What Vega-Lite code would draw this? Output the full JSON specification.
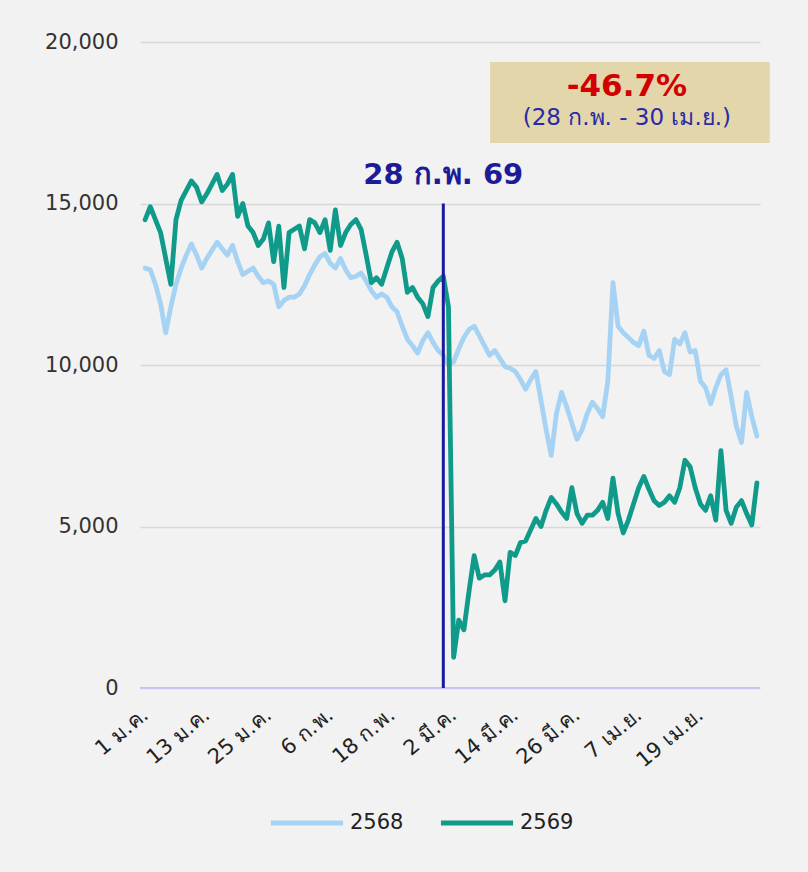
{
  "$schema": "https://vega.github.io/schema/vega-lite/v6.json",
  "width": 620,
  "height": 646,
  "autosize": {"type": "none"},
  "padding": {"left": 140, "top": 42, "right": 48, "bottom": 184},
  "background": "#f2f2f2",
  "config": {"view": {"stroke": null}, "font": "DejaVu Sans"},
  "data": {"values": [
    {"day":0,"y2568":13000,"y2569":14500},{"day":1,"y2568":12950,"y2569":14900},{"day":2,"y2568":12500,"y2569":14500},{"day":3,"y2568":11900,"y2569":14100},{"day":4,"y2568":11000,"y2569":13300},
    {"day":5,"y2568":11800,"y2569":12500},{"day":6,"y2568":12500,"y2569":14500},{"day":7,"y2568":13000,"y2569":15100},{"day":8,"y2568":13400,"y2569":15400},{"day":9,"y2568":13750,"y2569":15700},
    {"day":10,"y2568":13400,"y2569":15500},{"day":11,"y2568":13000,"y2569":15050},{"day":12,"y2568":13300,"y2569":15300},{"day":13,"y2568":13550,"y2569":15600},{"day":14,"y2568":13800,"y2569":15900},
    {"day":15,"y2568":13600,"y2569":15400},{"day":16,"y2568":13400,"y2569":15600},{"day":17,"y2568":13700,"y2569":15900},{"day":18,"y2568":13200,"y2569":14600},{"day":19,"y2568":12800,"y2569":15000},
    {"day":20,"y2568":12900,"y2569":14300},{"day":21,"y2568":13000,"y2569":14100},{"day":22,"y2568":12750,"y2569":13700},{"day":23,"y2568":12550,"y2569":13900},{"day":24,"y2568":12600,"y2569":14400},
    {"day":25,"y2568":12500,"y2569":13200},{"day":26,"y2568":11800,"y2569":14300},{"day":27,"y2568":12000,"y2569":12400},{"day":28,"y2568":12100,"y2569":14100},{"day":29,"y2568":12100,"y2569":14200},
    {"day":30,"y2568":12200,"y2569":14300},{"day":31,"y2568":12450,"y2569":13600},{"day":32,"y2568":12800,"y2569":14500},{"day":33,"y2568":13100,"y2569":14400},{"day":34,"y2568":13350,"y2569":14100},
    {"day":35,"y2568":13450,"y2569":14500},{"day":36,"y2568":13150,"y2569":13550},{"day":37,"y2568":13000,"y2569":14800},{"day":38,"y2568":13300,"y2569":13700},{"day":39,"y2568":12950,"y2569":14100},
    {"day":40,"y2568":12700,"y2569":14350},{"day":41,"y2568":12750,"y2569":14500},{"day":42,"y2568":12850,"y2569":14200},{"day":43,"y2568":12600,"y2569":13400},{"day":44,"y2568":12300,"y2569":12550},
    {"day":45,"y2568":12100,"y2569":12700},{"day":46,"y2568":12200,"y2569":12500},{"day":47,"y2568":12100,"y2569":13000},{"day":48,"y2568":11800,"y2569":13500},{"day":49,"y2568":11650,"y2569":13800},
    {"day":50,"y2568":11200,"y2569":13300},{"day":51,"y2568":10800,"y2569":12250},{"day":52,"y2568":10600,"y2569":12400},{"day":53,"y2568":10370,"y2569":12100},{"day":54,"y2568":10750,"y2569":11900},
    {"day":55,"y2568":11000,"y2569":11500},{"day":56,"y2568":10700,"y2569":12400},{"day":57,"y2568":10450,"y2569":12600},{"day":58,"y2568":10300,"y2569":12750},{"day":59,"y2568":10000,"y2569":11800},
    {"day":60,"y2568":10100,"y2569":950},{"day":61,"y2568":10500,"y2569":2100},{"day":62,"y2568":10850,"y2569":1800},{"day":63,"y2568":11100,"y2569":3000},{"day":64,"y2568":11200,"y2569":4100},
    {"day":65,"y2568":10900,"y2569":3400},{"day":66,"y2568":10600,"y2569":3500},{"day":67,"y2568":10300,"y2569":3500},{"day":68,"y2568":10450,"y2569":3650},{"day":69,"y2568":10200,"y2569":3900},
    {"day":70,"y2568":9950,"y2569":2700},{"day":71,"y2568":9900,"y2569":4200},{"day":72,"y2568":9800,"y2569":4100},{"day":73,"y2568":9550,"y2569":4500},{"day":74,"y2568":9250,"y2569":4550},
    {"day":75,"y2568":9550,"y2569":4900},{"day":76,"y2568":9800,"y2569":5250},{"day":77,"y2568":8900,"y2569":5000},{"day":78,"y2568":8000,"y2569":5500},{"day":79,"y2568":7200,"y2569":5900},
    {"day":80,"y2568":8500,"y2569":5700},{"day":81,"y2568":9150,"y2569":5450},{"day":82,"y2568":8700,"y2569":5250},{"day":83,"y2568":8200,"y2569":6200},{"day":84,"y2568":7700,"y2569":5400},
    {"day":85,"y2568":8000,"y2569":5100},{"day":86,"y2568":8500,"y2569":5350},{"day":87,"y2568":8850,"y2569":5350},{"day":88,"y2568":8650,"y2569":5500},{"day":89,"y2568":8400,"y2569":5750},
    {"day":90,"y2568":9500,"y2569":5250},{"day":91,"y2568":12550,"y2569":6500},{"day":92,"y2568":11200,"y2569":5400},{"day":93,"y2568":11000,"y2569":4800},{"day":94,"y2568":10850,"y2569":5200},
    {"day":95,"y2568":10700,"y2569":5700},{"day":96,"y2568":10600,"y2569":6200},{"day":97,"y2568":11050,"y2569":6550},{"day":98,"y2568":10300,"y2569":6150},{"day":99,"y2568":10200,"y2569":5800},
    {"day":100,"y2568":10450,"y2569":5650},{"day":101,"y2568":9800,"y2569":5750},{"day":102,"y2568":9700,"y2569":5950},{"day":103,"y2568":10800,"y2569":5750},{"day":104,"y2568":10650,"y2569":6200},
    {"day":105,"y2568":11000,"y2569":7050},{"day":106,"y2568":10400,"y2569":6850},{"day":107,"y2568":10450,"y2569":6200},{"day":108,"y2568":9500,"y2569":5700},{"day":109,"y2568":9300,"y2569":5500},
    {"day":110,"y2568":8800,"y2569":5950},{"day":111,"y2568":9300,"y2569":5200},{"day":112,"y2568":9700,"y2569":7350},{"day":113,"y2568":9850,"y2569":5500},{"day":114,"y2568":9000,"y2569":5100},
    {"day":115,"y2568":8100,"y2569":5600},{"day":116,"y2568":7600,"y2569":5800},{"day":117,"y2568":9150,"y2569":5400},{"day":118,"y2568":8400,"y2569":5050},{"day":119,"y2568":7800,"y2569":6350}
  ]},
  "layer": [
    {
      "transform": [{"fold": ["y2568", "y2569"], "as": ["series", "value"]}, {"calculate": "replace(datum.series, 'y', '')", "as": "year"}],
      "mark": {"type": "line", "strokeWidth": 4.8, "strokeJoin": "round", "strokeCap": "round"},
      "encoding": {
        "x": {"field": "day", "type": "quantitative", "scale": {"domain": [-1, 119.6], "nice": false, "zero": false},
          "axis": {"values": [0, 12, 24, 36, 48, 60, 72, 84, 96, 108], "title": null, "grid": false, "ticks": false, "domain": false,
            "labelExpr": "['1 ม.ค.','13 ม.ค.','25 ม.ค.','6 ก.พ.','18 ก.พ.','2 มี.ค.','14 มี.ค.','26 มี.ค.','7 เม.ย.','19 เม.ย.'][round(datum.value/12)]",
            "labelAngle": -40, "labelAlign": "right", "labelBaseline": "middle", "labelFontSize": 21, "labelColor": "#222222", "labelPadding": 24, "labelOverlap": false}},
        "y": {"field": "value", "type": "quantitative", "scale": {"domain": [0, 20000], "nice": false},
          "axis": {"values": [0, 5000, 10000, 15000, 20000], "format": ",.0f", "title": null, "ticks": false, "domain": false,
            "labelFontSize": 21, "labelColor": "#333333", "labelPadding": 22,
            "grid": true, "gridColor": "#d8d8d8", "gridWidth": 1.5}},
        "color": {"field": "year", "type": "nominal", "scale": {"domain": ["2568", "2569"], "range": ["#a6d3f3", "#0f9a8a"]},
          "legend": {"title": null, "orient": "none", "direction": "horizontal", "legendX": 128, "legendY": 742,
            "symbolType": "stroke", "symbolSize": 5200, "symbolStrokeWidth": 5, "labelFontSize": 21, "labelColor": "#222222", "columnPadding": 26, "labelOffset": 4}}
      }
    },
    {
      "data": {"values": [{}]},
      "mark": {"type": "rule", "color": "#c6c6f0", "strokeWidth": 2},
      "encoding": {
        "y": {"datum": 0, "type": "quantitative"}
      }
    },
    {
      "data": {"values": [{}]},
      "mark": {"type": "rect", "color": "#e2d6aa"},
      "encoding": {
        "x": {"datum": 67.1, "type": "quantitative"},
        "x2": {"datum": 121.5},
        "y": {"datum": 16870, "type": "quantitative"},
        "y2": {"datum": 19380}
      }
    },
    {
      "data": {"values": [{}]},
      "mark": {"type": "rule", "color": "#1a1a9c", "strokeWidth": 3},
      "encoding": {
        "x": {"datum": 58, "type": "quantitative"},
        "y": {"datum": 0, "type": "quantitative"},
        "y2": {"datum": 15000}
      }
    },
    {
      "data": {"values": [{}]},
      "mark": {"type": "text", "text": "28 ก.พ. 69", "fontSize": 29, "fontWeight": "bold", "color": "#1c1c98", "align": "center", "baseline": "middle"},
      "encoding": {"x": {"datum": 58, "type": "quantitative"}, "y": {"datum": 15880, "type": "quantitative"}}
    },
    {
      "data": {"values": [{}]},
      "mark": {"type": "text", "text": "-46.7%", "fontSize": 31, "fontWeight": "bold", "color": "#d20000", "align": "center", "baseline": "middle"},
      "encoding": {"x": {"datum": 93.7, "type": "quantitative"}, "y": {"datum": 18600, "type": "quantitative"}}
    },
    {
      "data": {"values": [{}]},
      "mark": {"type": "text", "text": "(28 ก.พ. - 30 เม.ย.)", "fontSize": 23, "color": "#2a2aa6", "align": "center", "baseline": "middle"},
      "encoding": {"x": {"datum": 93.7, "type": "quantitative"}, "y": {"datum": 17650, "type": "quantitative"}}
    }
  ]
}
